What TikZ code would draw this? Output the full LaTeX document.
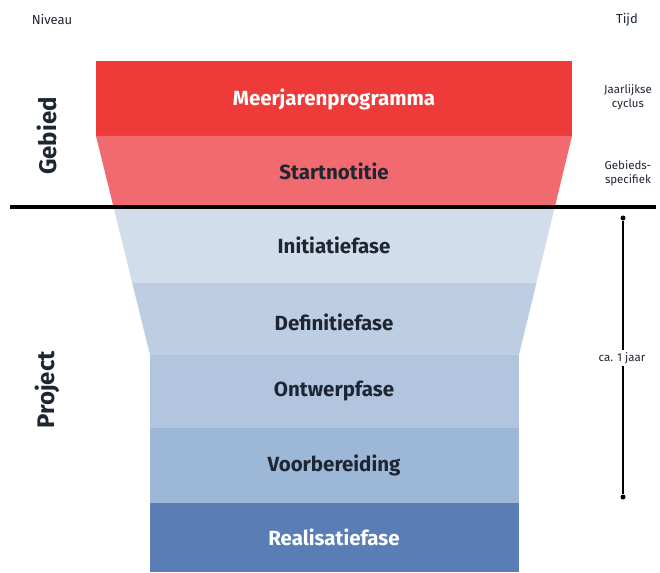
\documentclass[tikz,border=0pt]{standalone}
\usepackage{fontspec}
\setmainfont{Fira Sans}
\usetikzlibrary{positioning,calc}
\definecolor{gebiedtop}{HTML}{EE3B3A}
\definecolor{gebiedlow}{HTML}{F16A70}
\definecolor{faseA}{HTML}{D1DDEA}
\definecolor{faseB}{HTML}{BDCEE3}
\definecolor{faseC}{HTML}{B1C5DF}
\definecolor{faseD}{HTML}{9DB7D7}
\definecolor{faseE}{HTML}{5A7DB6}
\definecolor{labeltext}{HTML}{1E2633}

\begin{document}
\begin{tikzpicture}[x=1pt, y=-1pt,
  band/.style={font=\fontsize{20.5}{24}\selectfont\bfseries, text=labeltext},
  whiteband/.style={band, text=white},
  side/.style={font=\fontsize{11.5}{14.5}\selectfont, align=center, text=labeltext},
  header/.style={font=\fontsize{13}{15}\selectfont, text=labeltext},
  level/.style={font=\fontsize{24}{28}\selectfont\bfseries, rotate=90, text=labeltext},
  enddot/.style={circle, fill=black, inner sep=0pt, minimum size=5pt},
]
  \useasboundingbox (0,0) rectangle (660,572);

  % funnel corners
  \coordinate (topL) at (96,61);    \coordinate (topR) at (572,61);
  \coordinate (midL) at (96,136);   \coordinate (midR) at (572,136);
  \coordinate (cutL) at (113.5,207);\coordinate (cutR) at (554.8,207);
  \coordinate (faseL) at (132.2,283);\coordinate (faseR) at (536.4,283);
  \coordinate (neckL) at (150,355); \coordinate (neckR) at (519,355);

  \fill[gebiedtop] (topL) rectangle (midR);
  \fill[gebiedlow] (midL) -- (midR) -- (cutR) -- (cutL) -- cycle;
  \fill[faseA] (cutL) -- (cutR) -- (faseR) -- (faseL) -- cycle;
  \fill[faseB] (faseL) -- (faseR) -- (neckR) -- (neckL) -- cycle;
  \fill[faseC] (neckL) rectangle (519,428);
  \fill[faseD] (150,428) rectangle (519,503);
  \fill[faseE] (150,503) rectangle (519,572);

  % phase labels
  \node[whiteband] (meerjaren) at (334,99) {Meerjarenprogramma};
  \node[band] (start) at (334,171) {Startnotitie};
  \node[band] (initiatie) at (334,245) {Initiatiefase};
  \node[band] (definitie) at (334,322) {Definitiefase};
  \node[band] (ontwerp) at (334,391) {Ontwerpfase};
  \node[band] (voorber) at (334,465) {Voorbereiding};
  \node[whiteband] (realisatie) at (334,537) {Realisatiefase};

  % divider
  \coordinate (divL) at (10,207);
  \coordinate (divR) at (656,207);
  \draw[line width=3.5pt] (divL) -- (divR);

  % axis headers
  \node[header] (niveau) at (52,20) {Niveau};
  \node[header] (tijd) at (627,20) {Tijd};
  \node[level] (gebied) at (47,136) {Gebied};
  \node[level] (project) at (47,390) {Project};
  \node[side] (jaarlijks) at (628,97) {Jaarlijkse\\cyclus};
  \node[side] (specifiek) at (628,173) {Gebieds-\\specifiek};

  % duration
  \node[enddot] (durTop) at (623,218) {};
  \node[enddot] (durBot) at (623,497) {};
  \draw[line width=1.5pt] (durTop) -- (durBot);
  \node[side, fill=white, inner sep=2pt] (duur) at (622,358) {ca. 1 jaar};
\end{tikzpicture}
\end{document}
